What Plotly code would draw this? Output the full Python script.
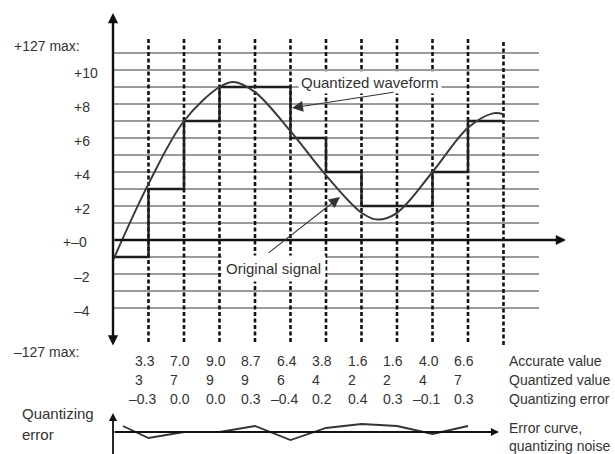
import plotly.graph_objects as go

# ---------------- data ----------------
sample_t = [1, 2, 3, 4, 5, 6, 7, 8, 9, 10]
accurate = [3.3, 7.0, 9.0, 8.7, 6.4, 3.8, 1.6, 1.6, 4.0, 6.6]
quantized = [3, 7, 9, 9, 6, 4, 2, 2, 4, 7]
q_error = [-0.3, 0.0, 0.0, 0.3, -0.4, 0.2, 0.4, 0.3, -0.1, 0.3]
accurate_txt = ["3.3", "7.0", "9.0", "8.7", "6.4", "3.8", "1.6", "1.6", "4.0", "6.6"]
quantized_txt = ["3", "7", "9", "9", "6", "4", "2", "2", "4", "7"]
error_txt = ["\u20130.3", "0.0", "0.0", "0.3", "\u20130.4", "0.2", "0.4", "0.3", "\u20130.1", "0.3"]

# original continuous signal (incl. peak / trough / ends)
signal_t = [0, 1, 2, 3, 3.4, 4, 5, 6, 7, 7.45, 8, 9, 10, 10.7, 11]
signal_v = [-1.2, 3.3, 7.0, 9.0, 9.3, 8.7, 6.4, 3.8, 1.6, 1.2, 1.6, 4.0, 6.6, 7.45, 7.4]

# quantized staircase: start level, held samples, end of last hold
q_start = -1
q_end_t = 11

# error curve start point
err_start_t, err_start_v = 0.28, 0.3

grid_levels = list(range(-4, 12))
tick_vals = [10, 8, 6, 4, 2, 0, -2, -4]
tick_txt = ["+10", "+8", "+6", "+4", "+2", "+\u20130", "\u20132", "\u20134"]
dotted_t = list(range(1, 12))

# ---------------- geometry helpers (pixel <-> data) ----------------
W, H = 615, 454
X0, DX = 113.0, 35.5        # px of t=0, px per sample
Y0, DY = 240.0, 17.0        # px of v=0, px per unit
E0, DE = 432.0, 20.0        # px of error 0, px per error unit

xr = [(0 - X0) / DX, (W - X0) / DX]
yr = [(Y0 - H) / DY, Y0 / DY]
y2r = [(E0 - H) / DE, E0 / DE]

def tx(px):
    return (px - X0) / DX

def vy(py):
    return (Y0 - py) / DY

def ey(py):
    return (E0 - py) / DE

FONT = "Liberation Sans, Arial, sans-serif"
TXT = "#333333"

fig = go.Figure()

shapes = []
# horizontal grid
for g in grid_levels:
    shapes.append(dict(type="line", xref="x", yref="y", x0=0, x1=tx(539), y0=g, y1=g,
                       line=dict(color="#7a7a7a", width=1.4), layer="below"))
# dotted sample lines
for t in dotted_t:
    top = vy(37) if t < 11 else vy(42)
    bot = vy(342) if t < 11 else vy(345)
    shapes.append(dict(type="line", xref="x", yref="y", x0=t, x1=t, y0=bot, y1=top,
                       line=dict(color="#111", width=2.6, dash="4px,2.5px"), layer="below"))

# quantized staircase
qx = [0] + sample_t + [q_end_t]
qy = [q_start] + quantized + [quantized[-1]]
fig.add_trace(go.Scatter(x=qx, y=qy, mode="lines", line=dict(color="#1e1e1e", width=2.4, shape="hv"),
                         hoverinfo="skip", showlegend=False))
# original signal
fig.add_trace(go.Scatter(x=signal_t, y=signal_v, mode="lines",
                         line=dict(color="#3a3a3a", width=2, shape="spline", smoothing=1.0),
                         hoverinfo="skip", showlegend=False))
# error curve
fig.add_trace(go.Scatter(x=[err_start_t] + sample_t, y=[err_start_v] + q_error, mode="lines",
                         yaxis="y2", line=dict(color="#333", width=1.8),
                         hoverinfo="skip", showlegend=False))

ann = []
# axes arrows
ann.append(dict(x=0, y=vy(13), ax=0, ay=vy(347), xref="x", yref="y", axref="x", ayref="y",
                showarrow=True, arrowhead=2, arrowside="end+start", arrowwidth=2.4, arrowsize=0.85,
                arrowcolor="#111", text=""))
ann.append(dict(x=tx(566), y=0, ax=0, ay=0, xref="x", yref="y", axref="x", ayref="y",
                showarrow=True, arrowhead=2, arrowwidth=2.4, arrowsize=0.85, arrowcolor="#111", text=""))
ann.append(dict(x=0, y=ey(413), ax=0, ay=ey(460), xref="x", yref="y2", axref="x", ayref="y2",
                showarrow=True, arrowhead=2, arrowwidth=1.8, arrowsize=0.9, arrowcolor="#111", text=""))
ann.append(dict(x=tx(499), y=0, ax=0, ay=0, xref="x", yref="y2", axref="x", ayref="y2",
                showarrow=True, arrowhead=2, arrowwidth=1.8, arrowsize=0.9, arrowcolor="#111", text=""))

# y labels
for v, s in zip(tick_vals, tick_txt):
    if s == "+\u20130":
        ann.append(dict(x=tx(89), y=v, xref="x", yref="y", text=s, showarrow=False, xanchor="right",
                        yshift=-2, font=dict(family=FONT, size=14, color=TXT)))
    else:
        ann.append(dict(x=tx(72), y=v, xref="x", yref="y", text=s, showarrow=False, xanchor="left",
                        yshift=-3, font=dict(family=FONT, size=14, color=TXT)))
ann.append(dict(x=tx(12), y=vy(46), xref="x", yref="y", text="+127 max:", showarrow=False, xanchor="left",
                font=dict(family=FONT, size=14, color=TXT)))
ann.append(dict(x=tx(12), y=vy(352), xref="x", yref="y", text="\u2013127 max:", showarrow=False, xanchor="left",
                font=dict(family=FONT, size=14, color=TXT)))

# number rows
for row_txt, py in [(accurate_txt, 361), (quantized_txt, 380), (error_txt, 399)]:
    for t, s in zip(sample_t, row_txt):
        shift = -22 if s.startswith("\u2013") else -16
        ann.append(dict(x=t, y=vy(py), xref="x", yref="y", text=s, showarrow=False, xanchor="left",
                        xshift=shift, font=dict(family=FONT, size=14, color=TXT)))

for s, py in [("Accurate value", 361), ("Quantized value", 380), ("Quantizing error", 399)]:
    ann.append(dict(x=tx(507), y=vy(py), xref="x", yref="y", text=s, showarrow=False, xanchor="left",
                    font=dict(family=FONT, size=14, color=TXT)))
for s, py in [("Error curve,", 428), ("quantizing noise", 446)]:
    ann.append(dict(x=tx(507), y=vy(py), xref="x", yref="y", text=s, showarrow=False, xanchor="left",
                    font=dict(family=FONT, size=14, color=TXT)))
for s, py in [("Quantizing", 413), ("error", 434)]:
    ann.append(dict(x=tx(20), y=vy(py), xref="x", yref="y", text=s, showarrow=False, xanchor="left",
                    font=dict(family=FONT, size=15, color=TXT)))

# callout labels (white box over grid)
ann.append(dict(x=tx(370), y=vy(82), xref="x", yref="y", text="Quantized waveform", showarrow=False,
                bgcolor="white", borderpad=2, font=dict(family=FONT, size=15, color=TXT)))
ann.append(dict(x=tx(273), y=vy(268), xref="x", yref="y", text="Original signal", showarrow=False,
                bgcolor="white", borderpad=4, font=dict(family=FONT, size=15, color=TXT)))
# callout arrows
ann.append(dict(x=tx(292), y=vy(108), ax=tx(395), ay=vy(92), xref="x", yref="y", axref="x", ayref="y",
                showarrow=True, arrowhead=2, arrowwidth=1.1, arrowsize=2.0, arrowcolor="#333", text=""))
ann.append(dict(x=tx(340), y=vy(197), ax=tx(267), ay=vy(254), xref="x", yref="y", axref="x", ayref="y",
                showarrow=True, arrowhead=2, arrowwidth=1.1, arrowsize=2.0, arrowcolor="#333", text=""))

fig.update_layout(
    width=W, height=H, margin=dict(l=0, r=0, t=0, b=0),
    paper_bgcolor="white", plot_bgcolor="white",
    xaxis=dict(range=xr, visible=False, fixedrange=True),
    yaxis=dict(range=yr, visible=False, fixedrange=True),
    yaxis2=dict(range=y2r, visible=False, overlaying="y", fixedrange=True),
    shapes=shapes, annotations=ann, showlegend=False,
)

fig.write_html("out.html", config={"displayModeBar": False},
               post_script="document.body.style.margin='0';document.body.style.overflow='hidden';")
